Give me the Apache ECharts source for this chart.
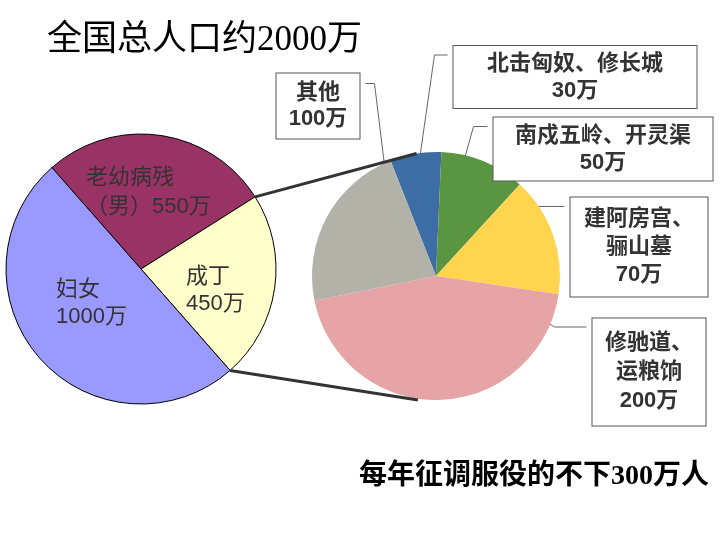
<!DOCTYPE html>
<html><head><meta charset="utf-8">
<script src="https://cdn.jsdelivr.net/npm/echarts@6/dist/echarts.min.js"></script>
<style>html,body{margin:0;padding:0;background:#fff}#c{width:720px;height:540px}</style>
</head><body><div id="c"></div>
<script>
// ---- data ----
const populationGroups = ['老幼病残\n（男）', '成丁', '妇女'];
const populationValues = [550, 450, 1000];
const laborTasks = ['北击匈奴、修长城', '南戍五岭、开灵渠', '建阿房宫、\n骊山墓', '修驰道、\n运粮饷', '其他'];
const laborValues = [30, 50, 70, 200, 100];
const unit = '万';
const titleText = '全国总人口约2000万';
const noteText = '每年征调服役的不下300万人';

// ---- layout / style ----
const LEFT = {cx: 141, cy: 269, r: 135, start: 131.3};
const RIGHT = {cx: 436, cy: 276, r: 124, start: 111.5};
const leftColors = ['#993366', '#FFFFCC', '#9999FF'];
const rightColors = ['#3C6EA5', '#5A9642', '#FFD550', '#E6A4A6', '#B2B2A8'];
const leftLabelPos = [{x: 86, y: 192, lh: 29}, {x: 186, y: 290, lh: 27}, {x: 56, y: 303, lh: 27}];
const rightBoxes = [
  {cx: 575, cy: 77,  w: 243, h: 62,  lh: 27, side: 'left',  dy: 9,  len2: 13, t: 0.44, rf: 0.81},
  {cx: 603, cy: 149, w: 219, h: 63,  lh: 27, side: 'left',  dy: 9,  len2: 14, t: 0.26, rf: 0.69},
  {cx: 639, cy: 247, w: 137, h: 99,  lh: 28, side: 'left',  dy: 9,  len2: 26, t: 0.41, rf: 0.66},
  {cx: 649, cy: 372, w: 113, h: 107, lh: 29, side: 'left',  dy: 8.5, len2: 32, t: 0.07, rf: 0.75},
  {cx: 318, cy: 106, w: 83,  h: 65,  lh: 26, side: 'right', dy: 10, len2: 9,  t: 0.92, rf: 0.85}
];
const GAP = 6;
const connectorTargets = [{ang: 99, rf: 1.0}, {ang: -98.3, rf: 1.01}];
const sansFont = "'Liberation Sans','Noto Sans CJK SC',sans-serif";
const serifFont = "'Liberation Serif','Noto Sans CJK SC',serif";

function sliceRange(values, start, i) {
  const total = values.reduce((a, b) => a + b, 0);
  let a = start;
  for (let k = 0; k < i; k++) a -= values[k] / total * 360;
  return [a, a - values[i] / total * 360];
}
function polar(c, angDeg, rad) {
  const t = angDeg * Math.PI / 180;
  return [c.cx + rad * Math.cos(t), c.cy - rad * Math.sin(t)];
}
function leftText(name, value) {
  return name + (name.endsWith('）') ? '' : '\n') + value + unit;
}
function rightText(name, value) {
  return name + '\n' + value + unit;
}

const leftData = populationGroups.map((n, i) => ({
  name: n, value: populationValues[i],
  itemStyle: {color: leftColors[i]},
  label: {lineHeight: leftLabelPos[i].lh}
}));
const rightData = laborTasks.map((n, i) => {
  const b = rightBoxes[i];
  const lines = rightText(n, laborValues[i]).split('\n').length;
  const vpad = (b.h - lines * b.lh) / 2;
  return {
    name: n, value: laborValues[i],
    itemStyle: {color: rightColors[i]},
    label: {width: b.w, lineHeight: b.lh, padding: [vpad, 0, vpad, 0]}
  };
});

// connectors from the 成丁 slice to the right pie
const [c0, c1] = sliceRange(populationValues, LEFT.start, 1);
const pA = polar(LEFT, c0, LEFT.r), pB = polar(LEFT, c1, LEFT.r);
const qA = polar(RIGHT, connectorTargets[0].ang, RIGHT.r * connectorTargets[0].rf);
const qB = polar(RIGHT, connectorTargets[1].ang, RIGHT.r * connectorTargets[1].rf);

const chart = echarts.init(document.getElementById('c'), null, {renderer: 'canvas'});
chart.setOption({
  animation: false,
  backgroundColor: '#fff',
  title: [
    {text: titleText, left: 47, top: 23, padding: 0,
     textStyle: {fontSize: 35, lineHeight: 35, fontWeight: 'normal', color: '#000', fontFamily: serifFont}},
    {text: noteText, left: 359, top: 463, padding: 0,
     textStyle: {fontSize: 28, lineHeight: 28, fontWeight: 'bold', color: '#000', fontFamily: serifFont}}
  ],
  series: [
    {
      type: 'pie', center: [LEFT.cx, LEFT.cy], radius: LEFT.r, startAngle: LEFT.start,
      clockwise: true, avoidLabelOverlap: false, silent: true,
      itemStyle: {borderColor: '#000', borderWidth: 1},
      label: {show: true, position: 'inside', fontSize: 22, color: '#333', fontFamily: sansFont,
              formatter: p => leftText(p.name, p.value)},
      labelLine: {show: false},
      labelLayout: p => ({x: leftLabelPos[p.dataIndex].x, y: leftLabelPos[p.dataIndex].y,
                          align: 'left', verticalAlign: 'middle'}),
      data: leftData
    },
    {
      type: 'pie', center: [RIGHT.cx, RIGHT.cy], radius: RIGHT.r, startAngle: RIGHT.start,
      clockwise: true, avoidLabelOverlap: false, silent: true,
      itemStyle: {borderWidth: 0},
      label: {show: true, position: 'outside', fontSize: 22, fontWeight: 'bold', color: '#333',
              fontFamily: sansFont, backgroundColor: '#fff', borderColor: '#555', borderWidth: 1,
              align: 'center', formatter: p => rightText(p.name, p.value)},
      labelLine: {show: true, length: 5, length2: 5, smooth: false, lineStyle: {color: '#666', width: 1}},
      labelLayout: p => {
        const b = rightBoxes[p.dataIndex];
        const [a0, a1] = sliceRange(laborValues, RIGHT.start, p.dataIndex);
        const inner = polar(RIGHT, a0 + (a1 - a0) * b.t, RIGHT.r * b.rf);
        const ey = b.cy - b.h / 2 + b.dy;
        const ex = b.side === 'left' ? b.cx - b.w / 2 - GAP : b.cx + b.w / 2 + GAP;
        const elbow = [b.side === 'left' ? ex - b.len2 : ex + b.len2, ey];
        return {x: b.cx, y: b.cy, align: 'center', verticalAlign: 'middle',
                labelLinePoints: [inner, elbow, [ex, ey]]};
      },
      data: rightData
    }
  ],
  graphic: [
    {type: 'line', z: 100, shape: {x1: pA[0], y1: pA[1], x2: qA[0], y2: qA[1]},
     style: {stroke: '#333', lineWidth: 3}},
    {type: 'line', z: 100, shape: {x1: pB[0], y1: pB[1], x2: qB[0], y2: qB[1]},
     style: {stroke: '#333', lineWidth: 3}}
  ]
});
</script>
</body></html>
